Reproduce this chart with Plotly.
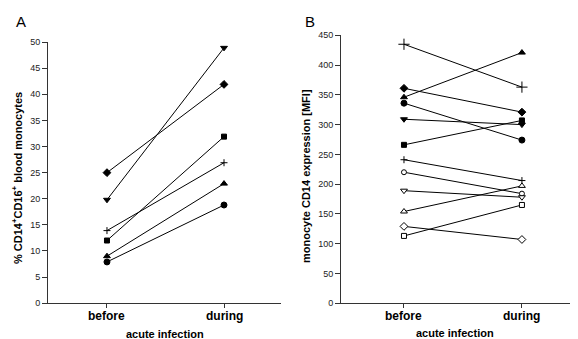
import plotly.graph_objects as go

groups = ["before", "during"]
xpos = [1, 2]

# Panel A: % CD14+CD16+ blood monocytes
A_circle = [7.9, 18.8]
A_triangle_up = [9.0, 22.9]
A_square = [12.0, 31.9]
A_plus = [13.9, 26.9]
A_triangle_down = [19.8, 48.9]
A_diamond = [25.0, 41.9]

# Panel B: monocyte CD14 expression [MFI]
B_plus = [435, 363]
B_triangle_up = [346, 421]
B_diamond = [361, 321]
B_circle = [336, 274]
B_triangle_down = [309, 300]
B_square = [266, 307]
B_open_plus = [241, 206]
B_open_circle = [220, 184]
B_open_triangle_down = [189, 178]
B_open_triangle_up = [154, 197]
B_open_diamond = [129, 107]
B_open_square = [113, 165]

A_ticks = [0, 5, 10, 15, 20, 25, 30, 35, 40, 45, 50]
B_ticks = [0, 50, 100, 150, 200, 250, 300, 350, 400, 450]

fig = go.Figure()

def add(vals, symbol, size, xa, ya, open_=False):
    fig.add_trace(go.Scatter(
        x=xpos, y=vals, mode="lines+markers", xaxis=xa, yaxis=ya,
        line=dict(color="black", width=1),
        marker=dict(symbol=symbol, size=size,
                    color="white" if open_ else "black",
                    line=dict(color="black", width=1)),
        showlegend=False, cliponaxis=False))

add(A_circle, "circle", 6, "x", "y")
add(A_triangle_up, "triangle-up", 6, "x", "y")
add(A_square, "square", 5, "x", "y")
add(A_plus, "cross-thin", 5, "x", "y")
add(A_triangle_down, "triangle-down", 6, "x", "y")
add(A_diamond, "diamond", 6, "x", "y")

add(B_plus, "cross-thin", 8, "x2", "y2")
add(B_triangle_up, "triangle-up", 6, "x2", "y2")
add(B_diamond, "diamond", 6, "x2", "y2")
add(B_circle, "circle", 6, "x2", "y2")
add(B_triangle_down, "triangle-down", 6, "x2", "y2")
add(B_square, "square", 5, "x2", "y2")
add(B_open_plus, "cross-thin", 5, "x2", "y2", True)
add(B_open_circle, "circle", 5, "x2", "y2", True)
add(B_open_triangle_down, "triangle-down", 6, "x2", "y2", True)
add(B_open_triangle_up, "triangle-up", 6, "x2", "y2", True)
add(B_open_diamond, "diamond", 6, "x2", "y2", True)
add(B_open_square, "square", 5, "x2", "y2", True)

W, H = 578, 339
font = "Liberation Sans, Arial, sans-serif"

xcommon = dict(tickvals=xpos, showticklabels=False, showline=True, linecolor="#333",
               linewidth=1, ticks="outside", ticklen=4, tickcolor="#333",
               showgrid=False, zeroline=False)
ycommon = dict(showline=True, linecolor="#333", linewidth=1, ticks="outside",
               ticklen=5, tickcolor="#333", showgrid=False, zeroline=False,
               tickfont=dict(family=font, size=9, color="#222"))

fig.update_layout(
    width=W, height=H, margin=dict(l=0, r=0, t=0, b=0),
    plot_bgcolor="white", paper_bgcolor="white",
    xaxis=dict(domain=[40 / W, 273 / W], range=[0.496, 2.487], anchor="y", **xcommon),
    yaxis=dict(domain=[1 - 299 / H, 1 - 30 / H], range=[0, 50], anchor="x",
               tickvals=A_ticks, **ycommon),
    xaxis2=dict(domain=[333 / W, 567 / W], range=[0.466, 2.45], anchor="y2", **xcommon),
    yaxis2=dict(domain=[1 - 299 / H, 1 - 23 / H], range=[0, 450], anchor="x2",
                tickvals=B_ticks, **ycommon),
)

def ann(text, x, y, size, bold=False, angle=0, xref="paper"):
    fig.add_annotation(text=text, x=x if xref != "paper" else x / W, y=1 - y / H,
                       xref=xref, yref="paper",
                       showarrow=False, textangle=angle, xanchor="center", yanchor="middle",
                       font=dict(family=font, size=size, color="black",
                                 weight="bold" if bold else "normal"))

for xa in ["x", "x2"]:
    for xv, g in zip(xpos, groups):
        ann(g, xv, 312, 12, True, xref=xa)

ann("A", 13, 9, 15)
ann("B", 302, 9, 15)
ann("% CD14<sup>+</sup>CD16<sup>+</sup> blood monocytes", 9, 170, 11, True, -90)
ann("monocyte CD14 expression [MFI]", 298, 168, 11, True, -90)
ann("acute infection", 157, 331, 11, True)
ann("acute infection", 447, 330, 11, True)

fig.write_html("out.html")
